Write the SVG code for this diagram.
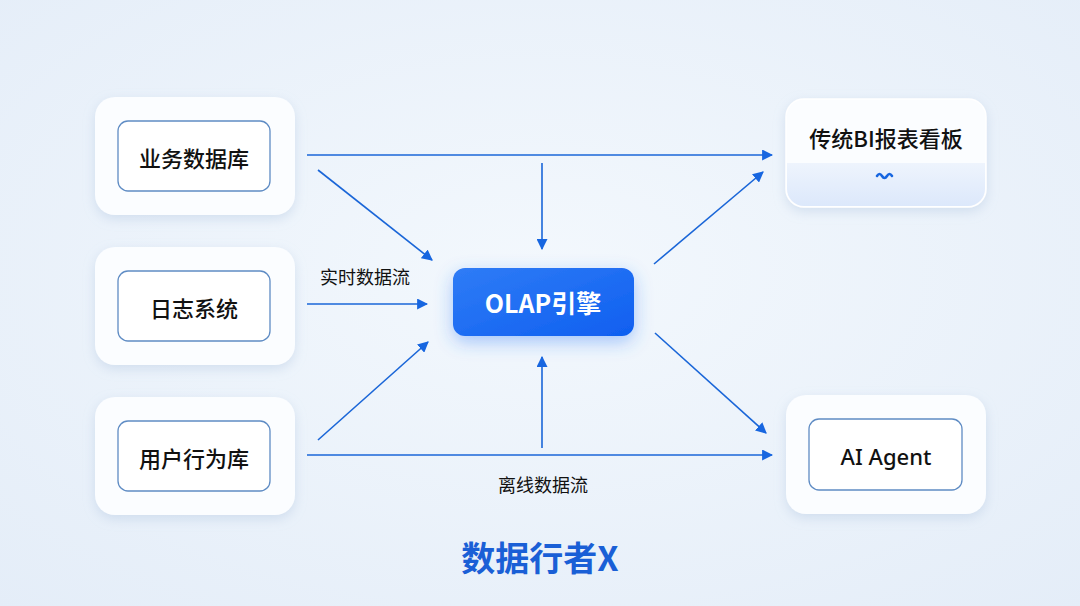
<svg xmlns="http://www.w3.org/2000/svg" width="1080" height="606" viewBox="0 0 1080 606">
<defs>
<radialGradient id="bg" cx="50%" cy="45%" r="75%">
<stop offset="0" stop-color="#f3f8fd"/>
<stop offset="1" stop-color="#e4edf8"/>
</radialGradient>
<linearGradient id="olap" x1="0" y1="0" x2="1" y2="1">
<stop offset="0" stop-color="#2f7cf6"/>
<stop offset="1" stop-color="#0f5ff0"/>
</linearGradient>
<linearGradient id="band" x1="0" y1="0" x2="0" y2="1">
<stop offset="0" stop-color="#eef4fd"/>
<stop offset="1" stop-color="#dce8fb"/>
</linearGradient>
<filter id="sh" x="-20%" y="-20%" width="140%" height="150%">
<feDropShadow dx="0" dy="4" stdDeviation="6" flood-color="#9fb8d8" flood-opacity="0.35"/>
</filter>
<filter id="glow" x="-30%" y="-50%" width="160%" height="200%">
<feDropShadow dx="0" dy="6" stdDeviation="9" flood-color="#2f7cf6" flood-opacity="0.4"/>
</filter>
<marker id="ah" viewBox="0 0 10 10" refX="9" refY="5" markerWidth="11" markerHeight="11" markerUnits="userSpaceOnUse" orient="auto">
<path d="M0,0 L10,5 L0,10 z" fill="#1766e0"/>
</marker>
</defs>
<style>
.card{fill:#fbfdff;filter:url(#sh)}
.inner{fill:#ffffff;stroke:#5f8cc4;stroke-width:1.3}
.lbl{font-family:"Noto Sans CJK SC","Noto Sans",sans-serif;font-size:22px;fill:#111;text-anchor:middle;dominant-baseline:central;font-weight:500}
.sm{font-family:"Noto Sans CJK SC","Noto Sans",sans-serif;font-size:18px;fill:#111;text-anchor:middle;dominant-baseline:central}
.ln{stroke:#1a66d8;stroke-width:1.6;fill:none;marker-end:url(#ah)}
</style>
<rect width="1080" height="606" fill="url(#bg)"/>

<g id="n1">
<rect class="card" x="95" y="97" width="200" height="118" rx="20"/>
<rect class="inner" x="118" y="121" width="152" height="70" rx="10"/>
<text class="lbl" x="194" y="157">业务数据库</text>
</g>
<g id="n2">
<rect class="card" x="95" y="247" width="200" height="118" rx="20"/>
<rect class="inner" x="118" y="271" width="152" height="70" rx="10"/>
<text class="lbl" x="194" y="307">日志系统</text>
</g>
<g id="n3">
<rect class="card" x="95" y="397" width="200" height="118" rx="20"/>
<rect class="inner" x="118" y="421" width="152" height="70" rx="10"/>
<text class="lbl" x="194" y="457">用户行为库</text>
</g>
<g id="olapnode">
<rect x="453" y="268" width="181" height="68" rx="12" fill="url(#olap)" filter="url(#glow)"/>
<text class="lbl" x="543" y="302" style="fill:#fff;font-weight:700;font-size:25px">OLAP引擎</text>
</g>
<g id="bi">
<rect class="card" x="786" y="99" width="200" height="108" rx="18" stroke="#ffffff" stroke-width="1.5"/>
<path d="M787,163 H985 V189 a17,17 0 0 1 -17,17 H804 a17,17 0 0 1 -17,-17 Z" fill="url(#band)"/>
<text class="lbl" x="886" y="137">传统BI报表看板</text>
<path d="M877,176 q2.5,-4 5,0 t5,0 t5,0" stroke="#1766e0" stroke-width="2.6" fill="none" stroke-linecap="round"/>
</g>
<g id="agent">
<rect class="card" x="786" y="395" width="200" height="119" rx="20"/>
<rect class="inner" x="809" y="419" width="153" height="71" rx="10"/>
<text class="lbl" x="886" y="456" style="font-family:'Noto Sans',sans-serif">AI Agent</text>
</g>

<g id="connectors">
<line class="ln" x1="307" y1="155" x2="772" y2="155"/>
<line class="ln" x1="318" y1="170" x2="432" y2="260"/>
<line class="ln" x1="307" y1="304" x2="427" y2="304"/>
<line class="ln" x1="318" y1="440" x2="428" y2="342"/>
<line class="ln" x1="307" y1="455" x2="772" y2="455"/>
<line class="ln" x1="542" y1="163" x2="542" y2="249"/>
<line class="ln" x1="542" y1="448" x2="542" y2="357"/>
<line class="ln" x1="654" y1="264" x2="763" y2="172"/>
<line class="ln" x1="655" y1="333" x2="766" y2="433"/>
<text class="sm" x="365" y="276">实时数据流</text>
<text class="sm" x="543" y="484">离线数据流</text>
</g>

<text x="540" y="556" text-anchor="middle" dominant-baseline="central" font-family="Noto Sans CJK SC, Noto Sans, sans-serif" font-size="34" font-weight="700" fill="#1a5fd6">数据行者X</text>
</svg>
